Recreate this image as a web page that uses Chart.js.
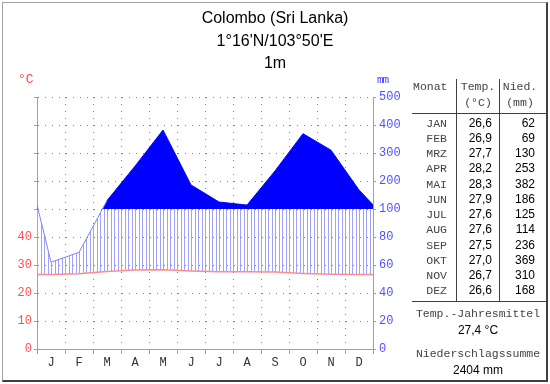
<!DOCTYPE html>
<html>
<head>
<meta charset="utf-8">
<script src="https://cdn.jsdelivr.net/npm/chart.js@4/dist/chart.umd.min.js"></script>
<style>
  body { margin: 0; background: #fff; }
  #wrap { position: relative; width: 550px; height: 384px; overflow: hidden; }
  #frame { position: absolute; left: 2px; top: 2px; width: 543px; height: 377px;
           border-left: 1px solid #a0a0a0; border-top: 1px solid #a0a0a0;
           border-right: 2px solid #404040; border-bottom: 2px solid #404040; }
  canvas { position: absolute; left: 0; top: 0; }
  .t { position: absolute; white-space: pre; }
  .title { left: 0; width: 550px; text-align: center; font: 16px 'Liberation Sans', Arial, sans-serif; color: #000; line-height: 20px; }
  .mono { font-family: 'Liberation Mono', monospace; font-size: 11.5px; color: #444; }
  .num { font-family: 'Liberation Sans', Arial, sans-serif; font-size: 12px; color: #000; }
  .ln { position: absolute; background: #404040; }
</style>
</head>
<body>
<div id="wrap">
  <canvas id="climate" width="550" height="384"></canvas>
  <div class="t title" style="top:8px">Colombo (Sri Lanka)</div>
  <div class="t title" style="top:31px">1°16'N/103°50'E</div>
  <div class="t title" style="top:53px">1m</div>
  <div class="t mono" style="left:18px;top:72px;color:#ff4040;font-size:13px">°C</div>
  <div class="t mono" style="left:377px;top:74px;color:#4040ff;font-size:11px;letter-spacing:-1px">mm</div>
  <div id="table"></div>
  <div id="frame"></div>
</div>
<script>
// Monthly climate values for Colombo
const MONTHS = ['J', 'F', 'M', 'A', 'M', 'J', 'J', 'A', 'S', 'O', 'N', 'D'];
const MONTH_NAMES = ['JAN', 'FEB', 'MRZ', 'APR', 'MAI', 'JUN', 'JUL', 'AUG', 'SEP', 'OKT', 'NOV', 'DEZ'];
const TEMP = [26.6, 26.9, 27.7, 28.2, 28.3, 27.9, 27.6, 27.6, 27.5, 27.0, 26.7, 26.6];
const PRECIP = [62, 69, 130, 253, 382, 186, 125, 114, 236, 369, 310, 168];
// values where the curves meet the left / right border (Dec -> Jan)
const TEMP_EDGE = 26.6;
const PRECIP_EDGE = 115;
const TEMP_TICKS = [0, 10, 20, 30, 40];
const PRECIP_TICKS = [0, 20, 40, 60, 80, 100, 200, 300, 400, 500];

// precipitation axis: 20 mm per 10 °C up to 100 mm, then 100 mm per 10 °C
const toScale = p => p <= 100 ? p / 2 : 50 + (p - 100) / 10;

const edgeData = (vals, edge, f) => [{x: 0, y: f(edge)}]
  .concat(vals.map((v, i) => ({x: i + 0.5, y: f(v)})))
  .concat([{x: 12, y: f(edge)}]);

const tempData = edgeData(TEMP, TEMP_EDGE, v => v);
const precipData = edgeData(PRECIP, PRECIP_EDGE, toScale);

// vertical hatching between temperature and precipitation curve (below 100 mm)
const hatch = {
  id: 'hatch',
  beforeDatasetsDraw(chart) {
    const {ctx, chartArea: a} = chart;
    const t = chart.getDatasetMeta(0).data;
    const p = chart.getDatasetMeta(1).data;
    const y100 = chart.scales.yP.getPixelForValue(50);
    ctx.save();
    ctx.beginPath();
    p.forEach((pt, i) => i ? ctx.lineTo(pt.x, pt.y) : ctx.moveTo(pt.x, pt.y));
    for (let i = t.length - 1; i >= 0; i--) ctx.lineTo(t[i].x, t[i].y);
    ctx.closePath();
    ctx.clip();
    ctx.beginPath();
    ctx.rect(a.left, y100, a.right - a.left, a.bottom - y100);
    ctx.clip();
    ctx.strokeStyle = '#a0a0ff';
    ctx.lineWidth = 1;
    ctx.beginPath();
    const step = (a.right - a.left) / 96;
    for (let k = 0; k <= 96; k++) {
      const x = Math.round(a.left + k * step) + 0.5;
      ctx.moveTo(x, y100);
      ctx.lineTo(x, a.bottom);
    }
    ctx.stroke();
    ctx.restore();
  }
};

const monoFont = {family: "'Liberation Mono', monospace", size: 12};

new Chart(document.getElementById('climate'), {
  type: 'line',
  data: {
    datasets: [{
      label: 'Temperatur',
      data: tempData,
      yAxisID: 'yT',
      borderColor: '#ff8c8c',
      borderWidth: 1.5,
      pointRadius: 0,
      fill: false,
      order: 0
    }, {
      label: 'Niederschlag',
      data: precipData,
      yAxisID: 'yP',
      borderColor: '#8080ff',
      borderWidth: 1,
      pointRadius: 0,
      fill: {target: {value: 50}, above: '#0000ff', below: 'rgba(0,0,0,0)'},
      segment: {
        borderColor: c => (c.p0.parsed.y >= 50 && c.p1.parsed.y >= 50) ? '#0000ff' : '#8080ff'
      },
      order: 1
    }]
  },
  options: {
    responsive: false,
    animation: false,
    devicePixelRatio: 1,
    layout: {padding: {left: 0, top: 97, right: 137, bottom: 10}},
    plugins: {legend: {display: false}, tooltip: {enabled: false}},
    scales: {
      x: {
        type: 'linear', min: 0, max: 12,
        ticks: {
          stepSize: 1, autoSkip: false, maxRotation: 0, labelOffset: 14, padding: 2,
          color: '#333', font: monoFont,
          callback: v => MONTHS[v] ?? ''
        },
        grid: {color: '#808080', tickColor: '#a0a0a0', tickLength: 5},
        border: {color: '#a0a0a0', dash: [1, 6]},
        afterFit: s => { s.height = 25; }
      },
      yT: {
        type: 'linear', position: 'left', min: 0, max: 90,
        ticks: {
          stepSize: 10, padding: 2, color: '#ff5050', font: monoFont,
          callback: (v, i) => TEMP_TICKS[i] ?? ''
        },
        grid: {color: '#808080', tickColor: '#a0a0a0', tickLength: 3},
        border: {color: '#a0a0a0', dash: [1, 6]},
        afterFit: s => { s.width = 37; }
      },
      yP: {
        type: 'linear', position: 'right', min: 0, max: 90,
        ticks: {
          stepSize: 10, padding: 3, color: '#5050ff', font: monoFont,
          callback: (v, i) => PRECIP_TICKS[i] ?? ''
        },
        grid: {drawOnChartArea: false, tickColor: '#a0a0a0', tickLength: 3},
        border: {color: '#a0a0a0'},
        afterFit: s => { s.width = 40; }
      }
    }
  },
  plugins: [hatch]
});

// data table on the right
const fmt = v => v.toFixed(1).replace('.', ',');
const meanT = TEMP.reduce((s, v) => s + v, 0) / TEMP.length;
const sumP = PRECIP.reduce((s, v) => s + v, 0);
let html = '';
const put = (cls, style, text) => { html += `<div class="t ${cls}" style="${style}">${text}</div>`; };
put('mono', 'left:413px;top:79px;line-height:16px', 'Monat');
put('mono', 'left:457px;width:42px;text-align:center;top:79px;line-height:16px', 'Temp.<br>(°C)');
put('mono', 'left:500px;width:40px;text-align:center;top:79px;line-height:16px', 'Nied.<br>(mm)');
MONTH_NAMES.forEach((m, i) => {
  const top = 115.5 + i * 15.27;
  put('mono', `right:${550 - 447}px;top:${top}px;line-height:15px`, m);
  put('num', `right:${550 - 492}px;top:${top}px;line-height:15px`, fmt(TEMP[i]));
  put('num', `right:${550 - 535}px;top:${top}px;line-height:15px`, PRECIP[i]);
});
put('mono', 'left:410px;width:136px;text-align:center;top:306px;line-height:16px', 'Temp.-Jahresmittel');
put('num', 'left:410px;width:136px;text-align:center;top:322px;line-height:16px', fmt(meanT) + ' °C');
put('mono', 'left:410px;width:136px;text-align:center;top:346px;line-height:16px', 'Niederschlagssumme');
put('num', 'left:410px;width:136px;text-align:center;top:362px;line-height:16px', sumP + ' mm');
html += '<div class="ln" style="left:456px;top:79px;width:1px;height:223px"></div>';
html += '<div class="ln" style="left:499px;top:79px;width:1px;height:223px"></div>';
html += '<div class="ln" style="left:412px;top:113px;width:134px;height:1px"></div>';
html += '<div class="ln" style="left:412px;top:301px;width:134px;height:1px"></div>';
document.getElementById('table').innerHTML = html;
</script>
</body>
</html>
